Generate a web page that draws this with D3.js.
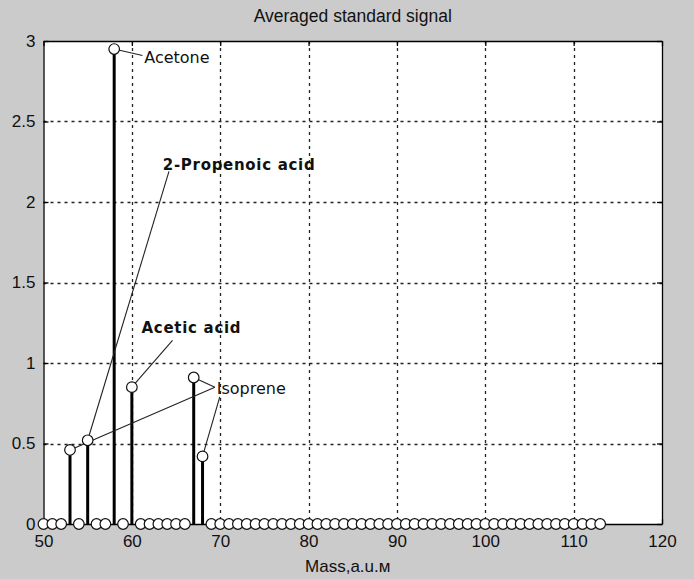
<!DOCTYPE html>
<html>
<head>
<meta charset="utf-8">
<script src="https://cdn.jsdelivr.net/npm/d3@7"></script>
<style>
  body { margin: 0; background: #cbcbcb; }
  svg { display: block; }
</style>
</head>
<body>
<svg id="chart" width="694" height="579"></svg>
<script>
// masses that carry a signal and their averaged values
const peakMass = [53, 55, 58, 60, 67, 68]
const peakValue = [0.46, 0.52, 2.95, 0.85, 0.91, 0.42]
// masses that were scanned (every integer 50..113)
const scanMass = d3.range(50, 114)
const xTicks = [50, 60, 70, 80, 90, 100, 110, 120]
const yTicks = [0, 0.5, 1, 1.5, 2, 2.5, 3]
const yTickLabels = ["0", "0.5", "1", "1.5", "2", "2.5", "3"]

// annotations: text, bold?, text anchor (mass, value), pointed masses, line start
const notes = [
  { text: "Acetone", bold: false, at: [61.4, 2.90], from: [61.2, 2.91], to: [58] },
  { text: "2-Propenoic acid", bold: true, at: [63.5, 2.23], from: [64.2, 2.19], to: [55] },
  { text: "Acetic acid", bold: true, at: [61.1, 1.22], from: [64.6, 1.14], to: [60] },
  { text: "Isoprene", bold: false, at: [69.6, 0.84], from: [69.4, 0.85], to: [67, 53] },
  { text: "", bold: false, at: [69.9, 0.79], from: [69.95, 0.79], to: [68] }
]

const svg = d3.select("#chart")
const W = 694, H = 579
const pLeft = 43.5, pRight = 662, pTop = 41, pBottom = 524

svg.append("rect").attr("width", W).attr("height", H).attr("fill", "#cbcbcb")

const x = d3.scaleLinear().domain([50, 120]).range([pLeft, pRight])
const y = d3.scaleLinear().domain([0, 3]).range([pBottom, pTop])

svg.append("rect")
  .attr("x", pLeft).attr("y", pTop)
  .attr("width", pRight - pLeft).attr("height", pBottom - pTop)
  .attr("fill", "#fff")

// grid
const grid = svg.append("g").attr("stroke", "#222").attr("stroke-width", 1.3)
  .attr("stroke-dasharray", "3,4")
grid.selectAll(".gx").data(xTicks.slice(1, -1)).enter().append("line")
  .attr("x1", d => Math.round(x(d)) + 0.5).attr("x2", d => Math.round(x(d)) + 0.5)
  .attr("y1", pTop).attr("y2", pBottom)
grid.selectAll(".gy").data(yTicks.slice(1, -1)).enter().append("line")
  .attr("y1", d => Math.round(y(d)) + 0.5).attr("y2", d => Math.round(y(d)) + 0.5)
  .attr("x1", pLeft).attr("x2", pRight)

// axes with inner ticks
const font = "'Liberation Sans', Arial, sans-serif"
const xAxis = svg.append("g").attr("transform", `translate(0,${pBottom})`)
  .call(d3.axisBottom(x).tickValues(xTicks).tickSizeInner(-5).tickSizeOuter(0).tickPadding(11))
const xTop = svg.append("g").attr("transform", `translate(0,${pTop})`)
  .call(d3.axisTop(x).tickValues(xTicks).tickSizeInner(-5).tickSizeOuter(0).tickFormat(""))
const yAxis = svg.append("g").attr("transform", `translate(${pLeft},0)`)
  .call(d3.axisLeft(y).tickValues(yTicks).tickSizeInner(-5).tickSizeOuter(0).tickPadding(8)
    .tickFormat((d, i) => yTickLabels[i]))
const yRight = svg.append("g").attr("transform", `translate(${pRight},0)`)
  .call(d3.axisRight(y).tickValues(yTicks).tickSizeInner(-5).tickSizeOuter(0).tickFormat(""))

;[xAxis, xTop, yAxis, yRight].forEach(a => {
  a.select(".domain").attr("stroke", "#000").attr("stroke-width", 1.3)
  a.selectAll(".tick line").attr("stroke", "#000").attr("stroke-width", 1.3)
  a.selectAll("text").attr("fill", "#111").style("font-family", font).style("font-size", "17px")
})
xAxis.selectAll("text").attr("dy", "0.71em")

// stems
svg.append("g").selectAll("line").data(peakMass).enter().append("line")
  .attr("x1", d => x(d)).attr("x2", d => x(d))
  .attr("y1", y(0)).attr("y2", (d, i) => y(peakValue[i]))
  .attr("stroke", "#000").attr("stroke-width", 3)

// annotation lines
const valueAt = m => {
  const i = peakMass.indexOf(m)
  return i < 0 ? 0 : peakValue[i]
}
const lines = []
notes.forEach(n => n.to.forEach(m => lines.push({ from: n.from, m })))
svg.append("g").selectAll("line").data(lines).enter().append("line")
  .attr("x1", d => x(d.from[0])).attr("y1", d => y(d.from[1]))
  .attr("x2", d => x(d.m)).attr("y2", d => y(valueAt(d.m)))
  .attr("stroke", "#222").attr("stroke-width", 1.1)

// markers
svg.append("g").selectAll("circle").data(scanMass).enter().append("circle")
  .attr("cx", d => x(d)).attr("cy", d => y(valueAt(d)))
  .attr("r", 5.3)
  .attr("fill", "#fff").attr("stroke", "#111").attr("stroke-width", 1.2)

// annotation texts
svg.append("g").selectAll("text").data(notes.filter(n => n.text)).enter().append("text")
  .attr("x", d => x(d.at[0])).attr("y", d => y(d.at[1]))
  .attr("dy", "0.35em")
  .style("font-family", "'DejaVu Sans', sans-serif")
  .style("font-size", d => d.bold ? "15px" : "16px")
  .style("font-weight", d => d.bold ? "bold" : "normal")
  .style("letter-spacing", d => d.bold ? "0.7px" : "0px")
  .attr("fill", "#111")
  .text(d => d.text)

// title and axis label
svg.append("text").attr("x", (pLeft + pRight) / 2).attr("y", 22)
  .attr("text-anchor", "middle")
  .style("font-family", font).style("font-size", "17.5px").attr("fill", "#111")
  .text("Averaged standard signal")
svg.append("text").attr("x", (pLeft + pRight) / 2 - 5).attr("y", 572)
  .attr("text-anchor", "middle")
  .style("font-family", font).style("font-size", "17px").attr("fill", "#111")
  .text("Mass,a.u.м")
</script>
</body>
</html>
